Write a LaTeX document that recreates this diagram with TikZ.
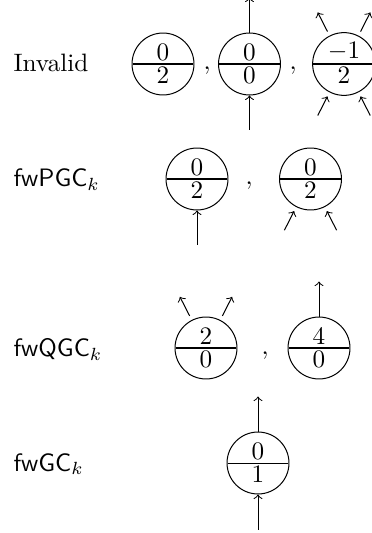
\documentclass[tikz,border=0pt]{standalone}
\usetikzlibrary{shapes.multipart,positioning}
\tikzset{
  flow/.style={
    x=0.397pt, y=0.397pt,
    every node/.style={inner sep=0pt},
    vtx/.style={circle split, draw, minimum size=24.6pt, inner sep=1.2pt},
    lbl/.style={anchor=base west},
    sep/.style={anchor=base},
    outarr/.style={->, shorten <=1.8pt},
    inarr/.style={<-, shorten <=1.8pt},
  }
}
\begin{document}
\begin{tikzpicture}[flow]
        \useasboundingbox (0,0) rectangle (372,-533);
        % invalid configurations
        \node[lbl] (linv) at (13,-72) {Invalid};
        \node[vtx] (inv1) at (163,-64) {$0$ \nodepart{lower} $2$};
        \node[vtx] (inv2) at (249.5,-64) {$0$ \nodepart{lower} $0$};
        \node[vtx] (inv3) at (344,-64) {$-1$ \nodepart{lower} $2$};
        \node[sep] (sinv1) at (207,-70) {$,$};
        \node[sep] (sinv2) at (293,-70) {$,$};
        \draw[->] (inv2.north) -- +(0,35);
        \draw[<-] (inv2.south) -- +(0,-35);
        \draw[outarr] (inv3.117) -- +(117:26);
        \draw[outarr] (inv3.63) -- +(63:26);
        \draw[inarr] (inv3.243) -- +(243:26);
        \draw[inarr] (inv3.297) -- +(297:26);
        % fwPGC
        \node[lbl] (lpgc) at (13,-187) {$\textsf{fwPGC}_k$};
        \node[vtx] (pgc1) at (197,-179) {$0$ \nodepart{lower} $2$};
        \node[vtx] (pgc2) at (310.5,-179) {$0$ \nodepart{lower} $2$};
        \node[sep] (spgc) at (249,-185) {$,$};
        \draw[<-] (pgc1.south) -- +(0,-35);
        \draw[inarr] (pgc2.243) -- +(243:26);
        \draw[inarr] (pgc2.297) -- +(297:26);
        % fwQGC
        \node[lbl] (lqgc) at (13,-356) {$\textsf{fwQGC}_k$};
        \node[vtx] (qgc1) at (206,-348) {$2$ \nodepart{lower} $0$};
        \node[vtx] (qgc2) at (319,-348) {$4$ \nodepart{lower} $0$};
        \node[sep] (sqgc) at (265,-354) {$,$};
        \draw[outarr] (qgc1.117) -- +(117:26);
        \draw[outarr] (qgc1.63) -- +(63:26);
        \draw[->] (qgc2.north) -- +(0,35);
        % fwGC
        \node[lbl] (lgc) at (13,-471) {$\textsf{fwGC}_k$};
        \node[vtx] (gc1) at (258,-463) {$0$ \nodepart{lower} $1$};
        \draw[->] (gc1.north) -- +(0,35);
        \draw[<-] (gc1.south) -- +(0,-36);
      \end{tikzpicture}
\end{document}
